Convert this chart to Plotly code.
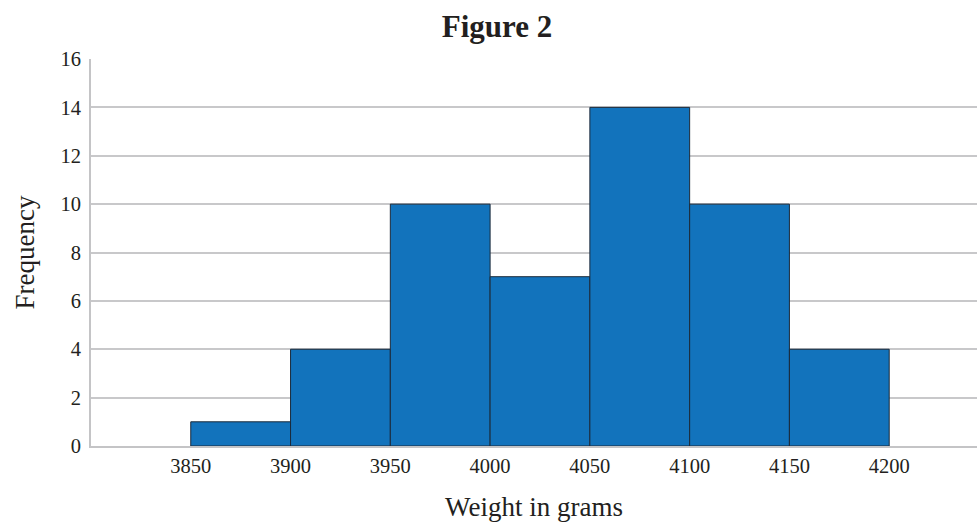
import plotly.graph_objects as go

bin_edges = [3850, 3900, 3950, 4000, 4050, 4100, 4150, 4200]
counts = [1, 4, 10, 7, 14, 10, 4]
tick_labels = ["3850", "3900", "3950", "4000", "4050", "4100", "4150", "4200"]

centers = [(a + b) / 2 for a, b in zip(bin_edges[:-1], bin_edges[1:])]
widths = [b - a for a, b in zip(bin_edges[:-1], bin_edges[1:])]

FONT = "Liberation Serif"

fig = go.Figure(go.Bar(
    x=centers, y=counts, width=widths,
    marker=dict(color="#1273BC", line=dict(color="#1B2A3A", width=1)),
))

fig.update_layout(
    width=977, height=522,
    margin=dict(l=91, r=0, t=59, b=76),
    paper_bgcolor="white", plot_bgcolor="white",
    showlegend=False,
    font=dict(family=FONT, color="#231F20"),
    title=dict(text="<b>Figure 2</b>", x=497/977, xref="container", xanchor="center",
               y=1 - 26/522, yref="container", yanchor="middle",
               font=dict(size=31, family=FONT, color="#231F20")),
)
fig.update_xaxes(
    range=[3800, 4244], tickvals=bin_edges, ticktext=tick_labels,
    tickfont=dict(size=20.5), ticks="", showgrid=False, zeroline=False,
    showline=True, linecolor="#C4C4C6", linewidth=2,
    title=dict(text="Weight in grams", font=dict(size=27), standoff=22),
)
fig.update_yaxes(
    range=[0, 16], tickvals=list(range(0, 17, 2)),
    tickfont=dict(size=20.5), ticks="", showgrid=True, gridcolor="#C8C8CA", gridwidth=1.5,
    zeroline=False, showline=True, linecolor="#C4C4C6", linewidth=2,
    ticklabelstandoff=4,
    title=dict(text="Frequency", font=dict(size=27), standoff=18),
)
fig.write_html("out.html", config={"displayModeBar": False},
               post_script="document.body.style.margin='0';document.body.style.overflow='hidden';")
